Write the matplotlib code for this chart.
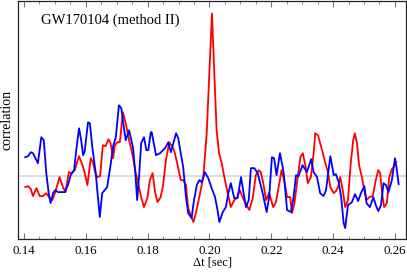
import numpy as np
import matplotlib
matplotlib.use("Agg")
import matplotlib.pyplot as plt
from matplotlib.ticker import MultipleLocator

# time lags (ms) and correlation (arbitrary units)
t_red_ms = [140.4, 141.3, 142.2, 142.9, 144.0, 145.1, 146.1, 147.2, 148.3, 149.2,
            150.1, 151.5, 152.6, 153.4, 154.5, 155.3, 156.4, 157.8, 158.9, 159.6,
            160.5, 161.6, 162.3, 163.0, 163.7, 164.6, 165.5, 166.4, 167.3, 168.0,
            168.8, 169.4, 170.2, 171.0, 172.0, 172.9, 174.0, 175.0, 176.1, 177.2,
            177.9, 178.8, 179.9, 180.7, 181.6, 182.4, 183.2, 184.2, 185.0, 185.9,
            187.0, 188.1, 188.8, 189.9, 190.7, 191.5, 192.4, 193.1, 193.9, 194.8,
            195.6, 196.7, 198.0, 199.1, 199.9, 200.8, 201.5, 202.3, 203.1, 203.9,
            204.8, 205.9, 206.9, 208.0, 208.8, 209.8, 210.7, 211.6, 212.9, 214.0,
            215.0, 215.9, 216.6, 217.4, 218.3, 219.3, 220.6, 221.5, 222.6, 223.3,
            224.3, 225.1, 226.1, 226.7, 227.5, 228.3, 229.4, 230.2, 231.0, 231.8,
            232.8, 233.7, 234.2, 235.1, 235.8, 236.6, 237.4, 238.3, 239.1, 240.2,
            240.9, 241.6, 242.3, 243.1, 243.9, 244.8, 245.7, 246.5, 247.0, 247.7,
            248.4, 249.3, 250.1, 250.8, 251.7, 252.8, 253.8, 254.6, 255.2, 256.0,
            256.5, 257.4, 258.1, 259.0, 259.8, 260.4]
c_red = [-0.11, -0.10, -0.13, -0.20, -0.12, -0.20, -0.20, -0.17, -0.22, -0.24,
         -0.16, -0.01, -0.11, -0.16, 0.04, 0.03, 0.06, 0.20, 0.11, 0.04,
         -0.09, 0.18, 0.14, 0.04, -0.01, 0.00, 0.31, 0.30, 0.37, 0.33,
         0.18, 0.31, 0.34, 0.34, 0.64, 0.53, 0.36, 0.23, 0.04, -0.11,
         -0.21, -0.31, -0.22, -0.04, 0.03, -0.16, -0.26, -0.21, -0.09, 0.16,
         0.34, 0.29, 0.23, 0.08, -0.04, -0.04, -0.09, -0.32, -0.39, -0.46,
         -0.37, -0.21, -0.01, 0.43, 0.99, 1.63, 1.09, 0.46, 0.23, 0.14,
         -0.01, -0.17, -0.31, -0.24, -0.22, -0.14, -0.21, -0.27, -0.34, -0.22,
         0.01, 0.06, 0.04, -0.07, -0.24, -0.17, -0.31, -0.26, -0.07, 0.06,
         -0.06, -0.21, -0.21, -0.37, -0.27, -0.07, 0.19, 0.23, 0.11, -0.07,
         -0.01, 0.23, 0.43, 0.41, 0.33, 0.24, 0.14, 0.04, -0.11, -0.17,
         -0.15, -0.11, -0.01, -0.14, -0.31, -0.24, 0.13, 0.36, 0.43, 0.33,
         0.11, -0.01, -0.14, -0.24, -0.21, -0.20, -0.04, 0.06, 0.03, -0.21,
         -0.31, -0.27, -0.02, 0.07, 0.10, 0.14]

t_blue_ms = [140.4, 141.3, 142.2, 142.9, 144.0, 144.5, 145.6, 146.4, 147.2, 148.0,
             148.6, 149.4, 150.1, 151.0, 153.2, 154.2, 155.1, 156.2, 156.9, 157.8,
             158.5, 159.1, 159.6, 160.7, 161.3, 162.1, 163.2, 163.7, 164.5, 165.3,
             166.1, 166.9, 168.0, 168.9, 169.7, 170.7, 171.5, 172.1, 172.9, 174.0,
             174.5, 175.3, 176.1, 176.6, 177.2, 177.9, 178.8, 179.6, 180.2, 181.0,
             181.3, 182.7, 184.0, 185.6, 186.7, 187.5, 188.3, 189.2, 189.9, 190.7,
             191.5, 192.4, 193.1, 194.2, 195.0, 195.9, 196.7, 197.5, 198.5, 199.6,
             200.7, 201.8, 202.6, 203.2, 204.3, 205.3, 206.1, 206.9, 208.0, 209.1,
             210.2, 210.9, 211.8, 212.7, 213.4, 214.5, 215.6, 217.2, 218.5, 219.3,
             220.2, 220.9, 221.7, 222.8, 223.7, 224.0, 225.1, 226.4, 227.2, 228.0,
             228.8, 230.1, 231.5, 232.9, 233.7, 234.8, 235.8, 236.9, 237.7, 239.1,
             240.2, 240.9, 241.8, 242.6, 243.4, 243.9, 244.8, 246.1, 247.1, 248.1,
             249.0, 250.1, 250.8, 251.9, 253.0, 253.8, 254.6, 255.5, 256.3, 257.1,
             257.9, 259.0, 260.0, 260.5, 261.2]
c_blue = [0.19, 0.20, 0.24, 0.23, 0.16, 0.13, 0.39, 0.36, 0.03, -0.17,
          -0.27, -0.17, -0.14, -0.16, -0.16, -0.09, 0.01, 0.06, 0.26, 0.48,
          0.36, 0.21, 0.24, 0.54, 0.53, 0.29, 0.03, -0.14, -0.41, -0.17,
          -0.14, -0.11, 0.11, 0.31, 0.39, 0.71, 0.68, 0.53, 0.36, 0.46,
          0.39, 0.28, -0.01, -0.24, -0.01, 0.33, 0.39, 0.26, 0.26, 0.44,
          0.44, 0.21, 0.23, 0.28, 0.34, 0.24, 0.33, 0.43, 0.38, 0.23,
          0.09, -0.21, -0.37, -0.42, -0.24, -0.09, -0.04, -0.06, 0.04, -0.02,
          -0.12, -0.21, -0.34, -0.46, -0.36, -0.31, -0.17, -0.07, -0.22, -0.22,
          -0.01, -0.14, -0.31, -0.24, 0.08, 0.08, 0.03, -0.17, -0.36, -0.21,
          0.19, 0.18, 0.01, 0.23, 0.09, 0.03, -0.34, -0.36, -0.21, 0.01,
          0.00, 0.11, 0.04, 0.17, 0.04, -0.01, -0.17, -0.20, -0.14, 0.20,
          0.01, 0.02, -0.06, -0.21, -0.47, -0.52, -0.29, -0.26, -0.18, -0.25,
          -0.17, -0.10, -0.27, -0.31, -0.21, -0.29, -0.35, -0.29, -0.07, -0.09,
          -0.16, -0.04, 0.18, 0.09, -0.08]

xticks = [0.14, 0.16, 0.18, 0.20, 0.22, 0.24, 0.26]

serif = "Liberation Serif"

fig = plt.figure(figsize=(4.07, 2.73), dpi=100)
ax = fig.add_axes([0.0435, 0.1245, 0.955, 0.8736])

ax.axhline(0, color="#dcdcdc", lw=1.4, zorder=1)
ax.plot(np.array(t_red_ms) / 1000, c_red, color="#ff0000", lw=1.3,
        solid_joinstyle="round", zorder=2)
ax.plot(np.array(t_blue_ms) / 1000, c_blue, color="#0000ff", lw=1.3,
        solid_joinstyle="round", zorder=3)

ax.set_xlim(0.13796, 0.2637)
ax.set_ylim(-0.63, 1.76)

ax.set_xticks(xticks)
ax.set_xticklabels([f"{v:.2f}" for v in xticks], fontfamily=serif, fontsize=9.3)
ax.xaxis.set_minor_locator(MultipleLocator(0.005))
ax.set_yticks([])
ax.tick_params(axis="x", which="both", direction="in", top=True, pad=4,
               color="#777777")
ax.tick_params(axis="x", which="major", length=4, width=0.8)
ax.tick_params(axis="x", which="minor", length=2.5, width=0.6)

for s in ax.spines.values():
    s.set_linewidth(0.9)
    s.set_color("#222222")

ax.set_xlabel("\u0394t [sec]", fontfamily=serif, fontsize=9, va="center")
ax.xaxis.set_label_coords(0.5, -0.0964)
ax.set_ylabel("correlation", fontfamily=serif, fontsize=10, va="center")
ax.yaxis.set_label_coords(-0.0275, 0.5)

ax.text(0.059, 0.901, "GW170104 (method II)", transform=ax.transAxes,
        fontfamily=serif, fontsize=10.5, va="baseline", ha="left")

fig.savefig("out.png", dpi=100)
